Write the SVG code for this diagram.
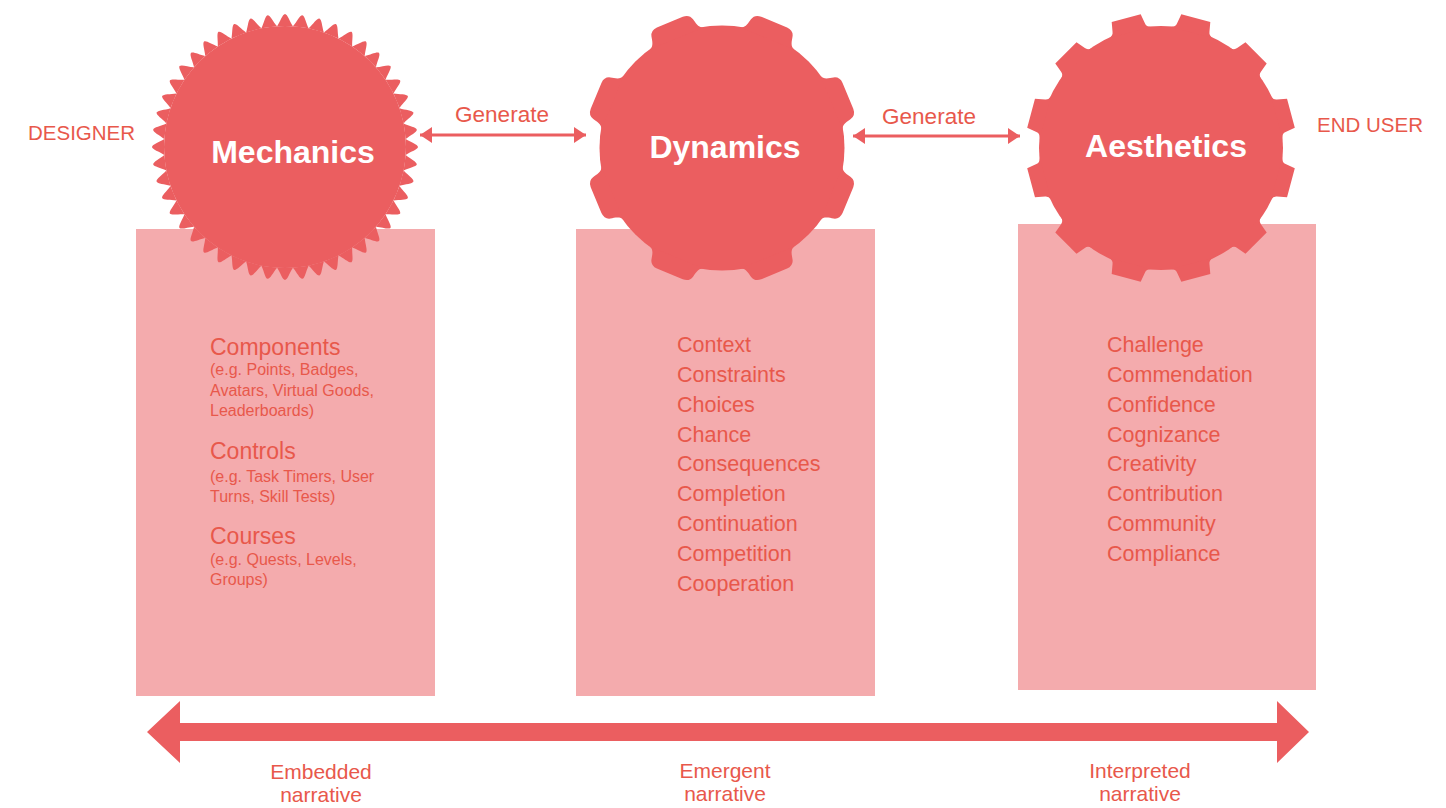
<svg xmlns="http://www.w3.org/2000/svg" xmlns:xlink="http://www.w3.org/1999/xlink" width="1446" height="808" viewBox="0 0 1446 808">
  <style>
    .panel { fill: #F4ABAD; }
    .gear { fill: #EB5E60; }
    .title { font-family: "Liberation Sans", Arial, sans-serif; font-weight: bold; font-size: 32px; fill: #FFFFFF; text-anchor: middle; }
    .label { font-family: "Liberation Sans", Arial, sans-serif; fill: #E8584B; }
    .role { font-size: 20.5px; }
    .gen { font-size: 22.5px; text-anchor: middle; }
    .head { font-size: 23px; }
    .sub { font-size: 16px; }
    .item { font-size: 21.5px; }
    .narr { font-size: 21px; text-anchor: middle; }
    .link { stroke: #EB5E60; stroke-width: 3; fill: none; }
  </style>
  <defs>
    <!-- single teeth, pointing up from the gear centre -->
    <path id="spike" d="M -7.9,-120.7 C -4.5,-126 -2.6,-132.6 0,-133 C 2.6,-132.6 4.5,-126 7.9,-120.7 Z"/>
    <path id="lobe" d="M -29,-118.5 C -24,-120 -23.5,-126 -22.5,-130 Q -21,-136 -14,-136.3 L 14,-136.3 Q 21,-136 22.5,-130 C 23.5,-126 24,-120 29,-118.5 Z"/>
    <path id="cog" d="M -21.5,-119.6 Q -17.2,-121 -16.8,-124.5 L -15,-134.5 L 15,-134.5 L 16.8,-124.5 Q 17.2,-121 21.5,-119.6 Z"/>
    <!-- six spikes covering 45 degrees -->
    <g id="spike6">
      <use xlink:href="#spike"/>
      <use xlink:href="#spike" transform="rotate(7.5)"/>
      <use xlink:href="#spike" transform="rotate(15)"/>
      <use xlink:href="#spike" transform="rotate(22.5)"/>
      <use xlink:href="#spike" transform="rotate(30)"/>
      <use xlink:href="#spike" transform="rotate(37.5)"/>
    </g>
    <marker id="tip" viewBox="0 0 12 16" refX="12" refY="8" markerWidth="12" markerHeight="16" markerUnits="userSpaceOnUse" orient="auto-start-reverse">
      <path d="M0,0 L12,8 L0,16 Z" fill="#EB5E60"/>
    </marker>
  </defs>

  <!-- content panels -->
  <g id="panel-mechanics">
    <rect class="panel" x="136" y="229" width="299" height="467"/>
  </g>
  <g id="panel-dynamics">
    <rect class="panel" x="576" y="229" width="299" height="467"/>
  </g>
  <g id="panel-aesthetics">
    <rect class="panel" x="1018" y="224" width="298" height="466"/>
  </g>

  <!-- gears -->
  <g id="mechanics">
    <g class="gear" transform="translate(285,147)">
      <circle r="121"/>
      <use xlink:href="#spike6"/>
      <use xlink:href="#spike6" transform="rotate(45)"/>
      <use xlink:href="#spike6" transform="rotate(90)"/>
      <use xlink:href="#spike6" transform="rotate(135)"/>
      <use xlink:href="#spike6" transform="rotate(180)"/>
      <use xlink:href="#spike6" transform="rotate(225)"/>
      <use xlink:href="#spike6" transform="rotate(270)"/>
      <use xlink:href="#spike6" transform="rotate(315)"/>
    </g>
    <text class="title" x="293" y="163">Mechanics</text>
  </g>

  <g id="dynamics">
    <g class="gear" transform="translate(722,148)">
      <circle r="122.5"/>
      <use xlink:href="#lobe" transform="rotate(22.5)"/>
      <use xlink:href="#lobe" transform="rotate(67.5)"/>
      <use xlink:href="#lobe" transform="rotate(112.5)"/>
      <use xlink:href="#lobe" transform="rotate(157.5)"/>
      <use xlink:href="#lobe" transform="rotate(202.5)"/>
      <use xlink:href="#lobe" transform="rotate(247.5)"/>
      <use xlink:href="#lobe" transform="rotate(292.5)"/>
      <use xlink:href="#lobe" transform="rotate(337.5)"/>
    </g>
    <text class="title" x="725" y="158">Dynamics</text>
  </g>

  <g id="aesthetics">
    <g class="gear" transform="translate(1161,148)">
      <circle r="122"/>
      <use xlink:href="#cog" transform="rotate(15)"/>
      <use xlink:href="#cog" transform="rotate(45)"/>
      <use xlink:href="#cog" transform="rotate(75)"/>
      <use xlink:href="#cog" transform="rotate(105)"/>
      <use xlink:href="#cog" transform="rotate(135)"/>
      <use xlink:href="#cog" transform="rotate(165)"/>
      <use xlink:href="#cog" transform="rotate(195)"/>
      <use xlink:href="#cog" transform="rotate(225)"/>
      <use xlink:href="#cog" transform="rotate(255)"/>
      <use xlink:href="#cog" transform="rotate(285)"/>
      <use xlink:href="#cog" transform="rotate(315)"/>
      <use xlink:href="#cog" transform="rotate(345)"/>
    </g>
    <text class="title" x="1166" y="157">Aesthetics</text>
  </g>

  <!-- role labels -->
  <g id="designer">
    <text class="label role" x="28" y="140">DESIGNER</text>
  </g>
  <g id="end-user">
    <text class="label role" x="1317" y="132">END USER</text>
  </g>

  <!-- connectors -->
  <g id="connectors">
    <line class="link" x1="420" y1="135" x2="586" y2="135" marker-start="url(#tip)" marker-end="url(#tip)"/>
    <line class="link" x1="853" y1="136" x2="1020" y2="136" marker-start="url(#tip)" marker-end="url(#tip)"/>
    <text class="label gen" x="502" y="122">Generate</text>
    <text class="label gen" x="929" y="124">Generate</text>
    <!-- narrative spectrum arrow -->
    <polygon fill="#EB5E60" points="147,732 180,701 180,723 1277,723 1277,701 1309,732 1277,763 1277,741 180,741 180,763"/>
  </g>

  <!-- panel contents -->
  <g id="mechanics-list" class="label">
    <text class="head" x="210" y="355">Components</text>
    <text class="sub" x="210" y="375">(e.g. Points, Badges,</text>
    <text class="sub" x="210" y="396">Avatars, Virtual Goods,</text>
    <text class="sub" x="210" y="416">Leaderboards)</text>
    <text class="head" x="210" y="459">Controls</text>
    <text class="sub" x="210" y="482">(e.g. Task Timers, User</text>
    <text class="sub" x="210" y="502">Turns, Skill Tests)</text>
    <text class="head" x="210" y="544">Courses</text>
    <text class="sub" x="210" y="565">(e.g. Quests, Levels,</text>
    <text class="sub" x="210" y="585">Groups)</text>
  </g>

  <g id="dynamics-list" class="label">
    <text class="item" x="677" y="352">Context</text>
    <text class="item" x="677" y="382">Constraints</text>
    <text class="item" x="677" y="411.5">Choices</text>
    <text class="item" x="677" y="441.5">Chance</text>
    <text class="item" x="677" y="471">Consequences</text>
    <text class="item" x="677" y="501">Completion</text>
    <text class="item" x="677" y="531">Continuation</text>
    <text class="item" x="677" y="560.5">Competition</text>
    <text class="item" x="677" y="590.5">Cooperation</text>
  </g>

  <g id="aesthetics-list" class="label">
    <text class="item" x="1107" y="352">Challenge</text>
    <text class="item" x="1107" y="382">Commendation</text>
    <text class="item" x="1107" y="411.5">Confidence</text>
    <text class="item" x="1107" y="441.5">Cognizance</text>
    <text class="item" x="1107" y="471">Creativity</text>
    <text class="item" x="1107" y="501">Contribution</text>
    <text class="item" x="1107" y="531">Community</text>
    <text class="item" x="1107" y="560.5">Compliance</text>
  </g>

  <!-- narrative labels -->
  <g id="narratives" class="label">
    <text class="narr" x="321" y="779">Embedded</text>
    <text class="narr" x="321" y="802">narrative</text>
    <text class="narr" x="725" y="778">Emergent</text>
    <text class="narr" x="725" y="801">narrative</text>
    <text class="narr" x="1140" y="778">Interpreted</text>
    <text class="narr" x="1140" y="801">narrative</text>
  </g>
</svg>
